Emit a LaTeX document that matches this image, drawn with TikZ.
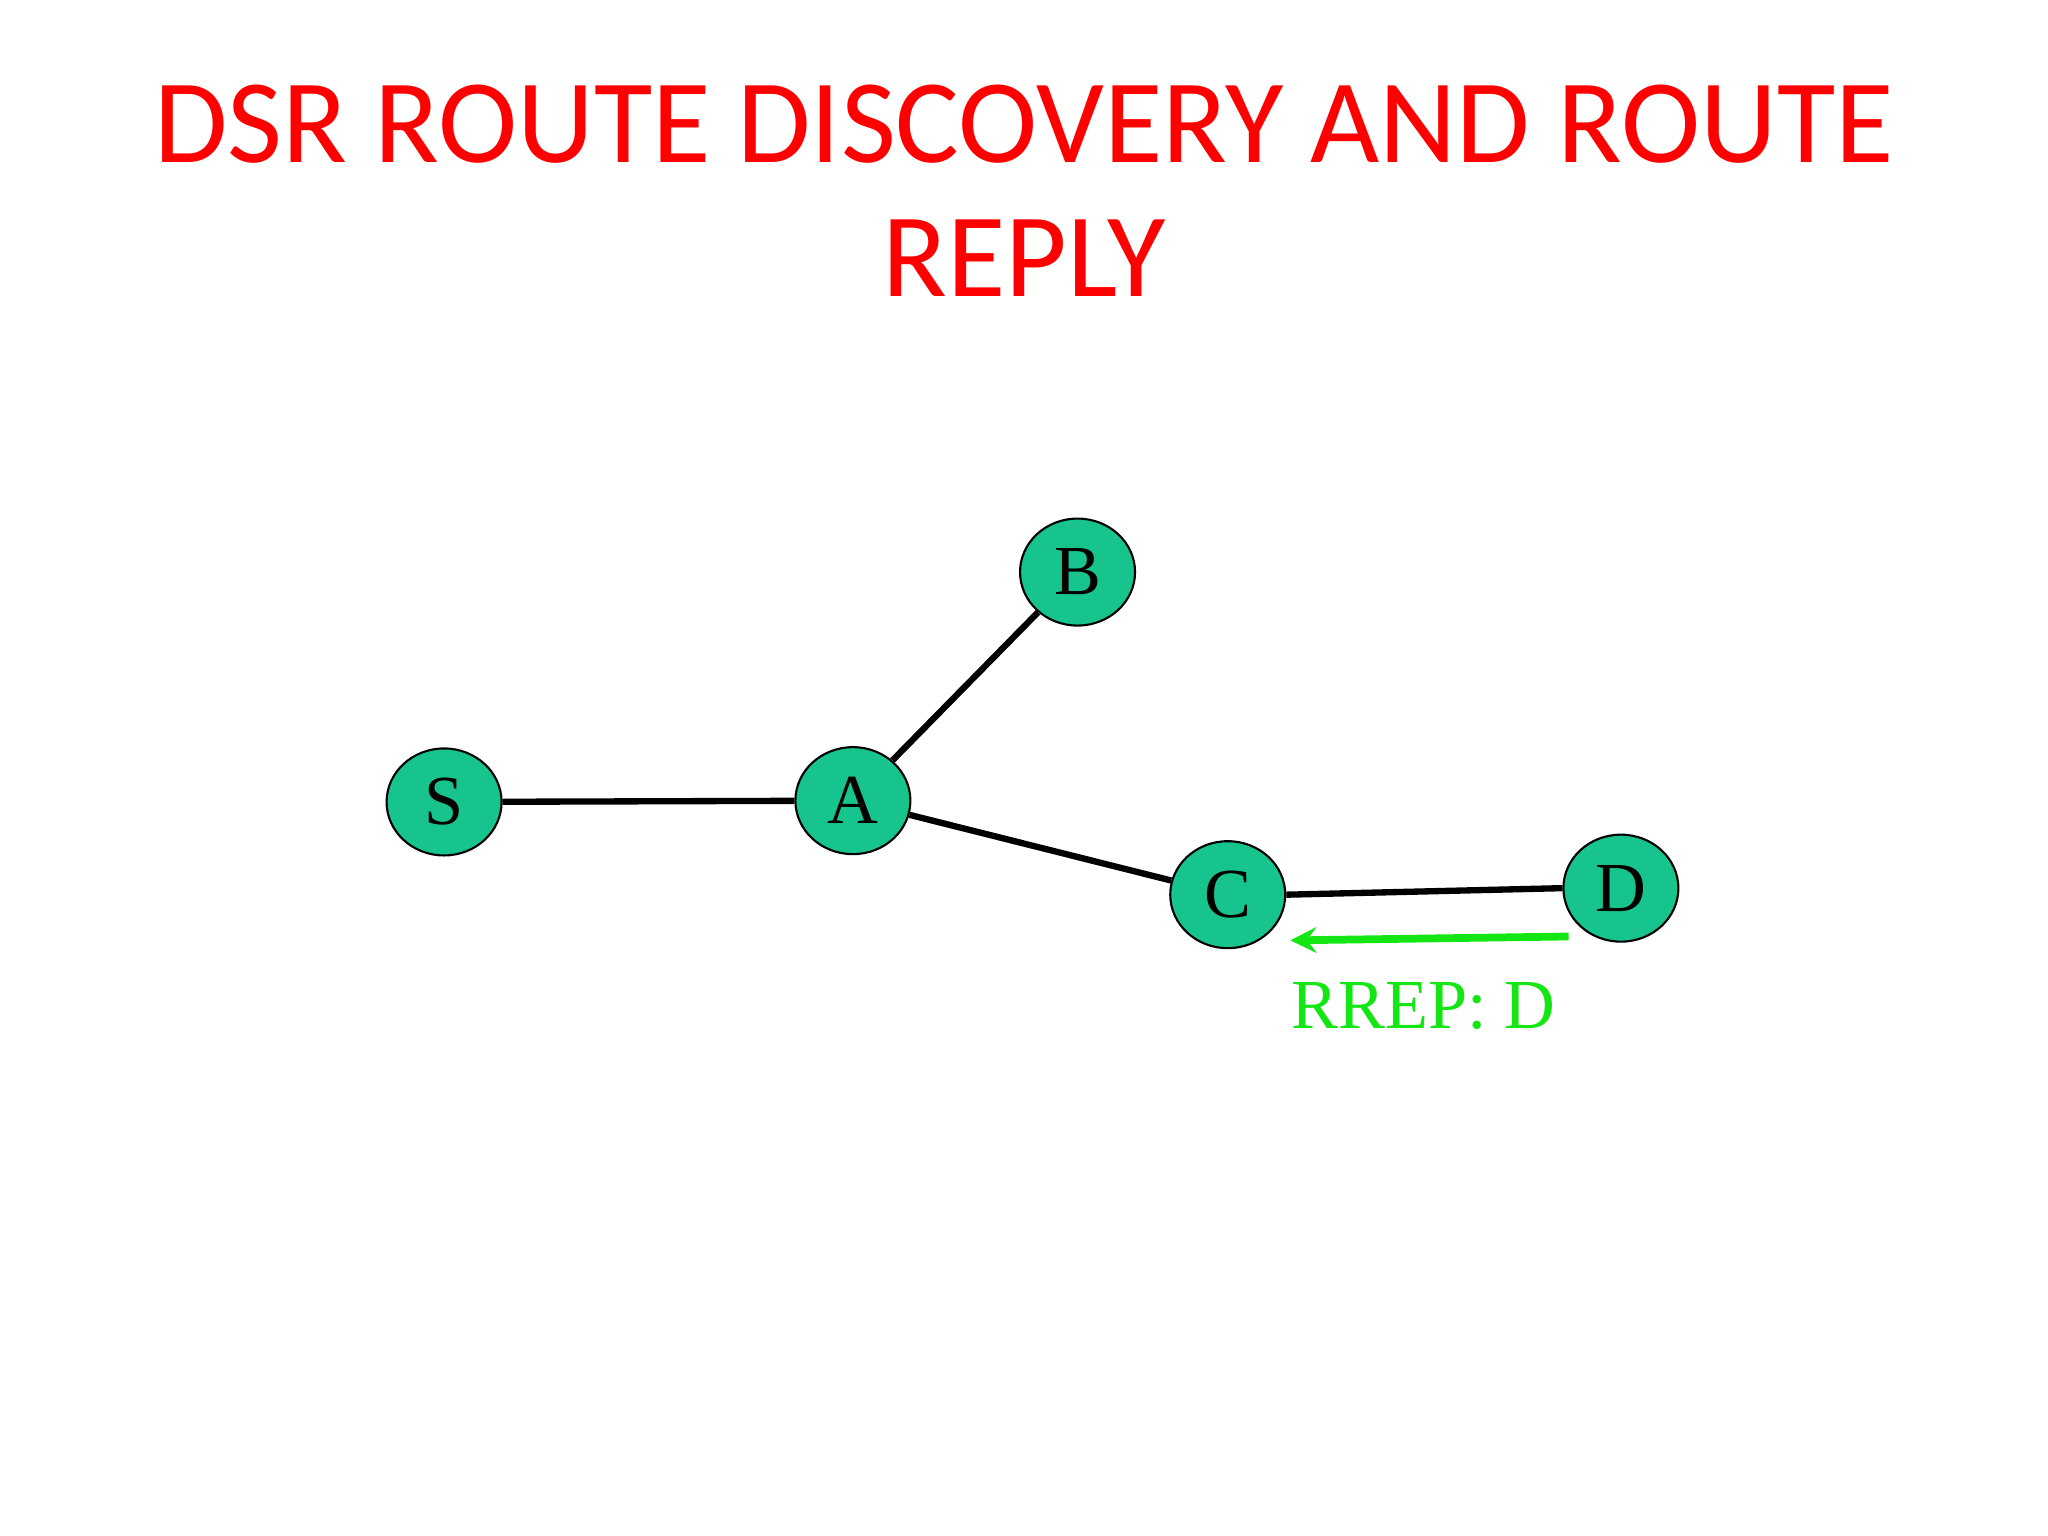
\documentclass[tikz,border=0pt]{standalone}
\usepackage{fontspec}
\setmainfont{Liberation Serif}
\newfontfamily\titlefont{Carlito}
\definecolor{nodegreen}{RGB}{24,196,142}
\definecolor{rrepgreen}{RGB}{20,230,20}
\definecolor{titlered}{RGB}{255,0,0}
\begin{document}
\begin{tikzpicture}[x=0.01306cm,y=-0.01306cm,
  netnode/.style={ellipse,draw=black,line width=0.6pt,fill=nodegreen,minimum width=88\pgflinewidth,inner sep=0pt,minimum width=1.15cm,minimum height=1.07cm,font=\fontsize{20}{22}\selectfont},
  link/.style={line width=1.8pt,black},
  ]
\usetikzlibrary{shapes.geometric}
\useasboundingbox (0,0) rectangle (1568,1176);
\node[font=\titlefont\fontsize{34}{40}\selectfont,text=titlered] (t1) at (784,95) {DSR ROUTE DISCOVERY AND ROUTE};
\node[font=\titlefont\fontsize{34}{40}\selectfont,text=titlered] (t2) at (784,198) {REPLY};
\node[netnode] (S) at (340,614) {S};
\node[netnode] (A) at (653,613) {A};
\node[netnode] (B) at (825,438) {B};
\node[netnode] (C) at (940,685) {C};
\node[netnode] (D) at (1241,680) {D};
\draw[link] (S) -- (A);
\draw[link] (A) -- (B);
\draw[link] (A) -- (C);
\draw[link] (C.east) -- (D.west);
\coordinate (r1) at (1201,717);
\coordinate (r2) at (988,720);
\draw[line width=2.2pt,rrepgreen,-stealth] (r1) -- (r2);
\node[text=rrepgreen,font=\fontsize{20}{22}\selectfont] (lab) at (1090,770) {RREP: D};
\end{tikzpicture}
\end{document}
